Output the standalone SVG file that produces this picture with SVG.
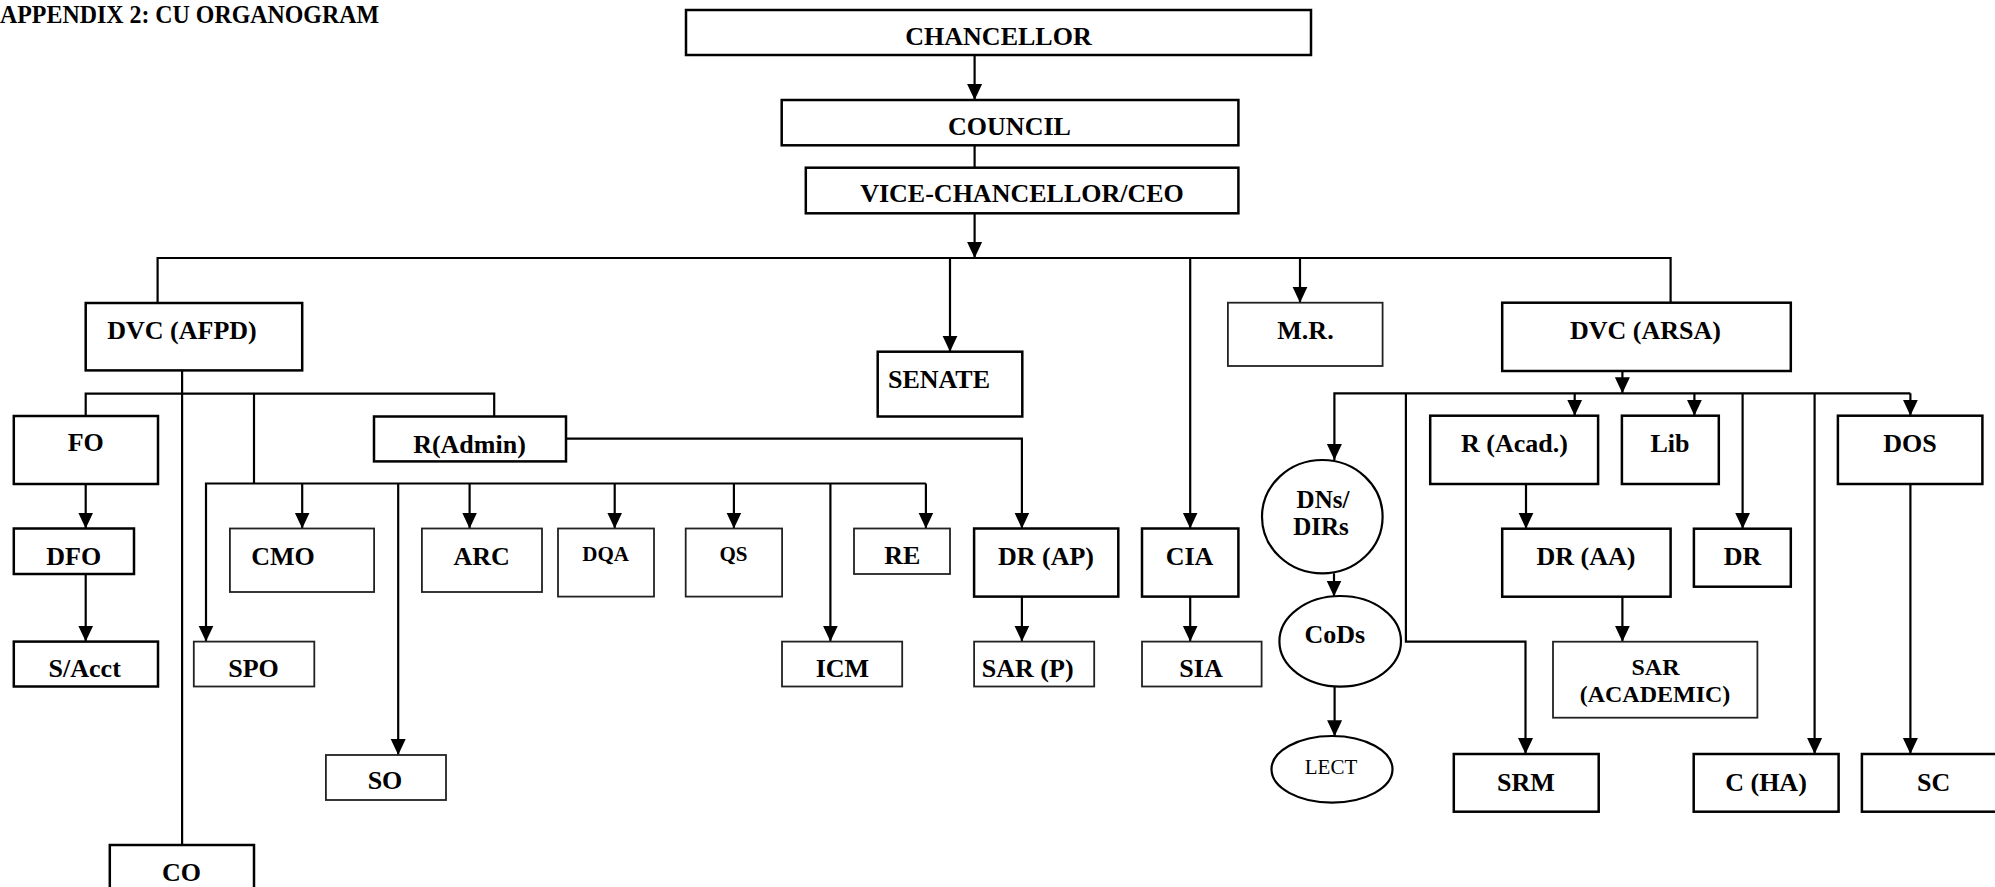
<svg xmlns="http://www.w3.org/2000/svg" width="1995" height="887" viewBox="0 0 1995 887">
<style>
  .bx{fill:#fff;stroke:#000;stroke-width:2.5}
  .bt{fill:#fff;stroke:#222;stroke-width:1.8}
  .el{fill:#fff;stroke:#000;stroke-width:2.2}
  .t{font-family:"Liberation Serif","Times New Roman",serif;font-weight:bold;font-size:26px;fill:#000;text-anchor:middle}
  .s{font-size:21px}
  .m{font-size:24px}
  .n{font-weight:normal}
  .c{fill:none;stroke:#000;stroke-width:2.2}
  .a{fill:none;stroke:#000;stroke-width:2.2;marker-end:url(#ah)}
</style>
<defs>
  <marker id="ah" markerUnits="userSpaceOnUse" markerWidth="16" markerHeight="16" viewBox="0 0 16 16" refX="16" refY="8" orient="auto">
    <path d="M0,0.5 L16,8 L0,15.5 z" fill="#000"/>
  </marker>
</defs>
<rect width="1995" height="887" fill="#fff"/>
<text x="0" y="23" class="t" style="text-anchor:start;font-size:25px" textLength="379" lengthAdjust="spacingAndGlyphs">APPENDIX 2: CU ORGANOGRAM</text>

<g id="connectors">
  <path class="a" d="M974.6,55 V100"/>
  <path class="c" d="M974.6,145.3 V167.7"/>
  <path class="a" d="M974.6,213.3 V258"/>
  <path class="c" d="M157.6,303 V258 H1670.6 V302.7"/>
  <path class="a" d="M950,258 V351.7"/>
  <path class="a" d="M1190.2,258 V528.5"/>
  <path class="a" d="M1300,258 V302.7"/>
  <path class="c" d="M182.1,370.4 V845"/>
  <path class="c" d="M85.7,416 V393.6 H494.2 V416.5"/>
  <path class="c" d="M254,393.6 V483.5"/>
  <path class="a" d="M925.9,483.5 H206 V641.6"/>
  <path class="a" d="M302.2,483.5 V528.5"/>
  <path class="a" d="M398.2,483.5 V755"/>
  <path class="a" d="M469.6,483.5 V528.5"/>
  <path class="a" d="M614.7,483.5 V528.5"/>
  <path class="a" d="M733.9,483.5 V528.5"/>
  <path class="a" d="M830.4,483.5 V641.6"/>
  <path class="a" d="M925.9,483.5 V528.5"/>
  <path class="a" d="M85.7,484 V528.5"/>
  <path class="a" d="M85.7,574 V641.6"/>
  <path class="a" d="M566,438.6 H1021.9 V528.5"/>
  <path class="a" d="M1021.9,596.6 V641.6"/>
  <path class="a" d="M1190.2,596.6 V641.6"/>
  <path class="a" d="M1622.4,371 V393.3"/>
  <path class="a" d="M1910.4,393.3 H1334.4 V460"/>
  <path class="a" d="M1405.9,393.3 V641.7 H1525.5 V754"/>
  <path class="a" d="M1574.7,393.3 V415.7"/>
  <path class="a" d="M1694.4,393.3 V415.7"/>
  <path class="a" d="M1742.6,393.3 V528.7"/>
  <path class="a" d="M1814.6,393.3 V754"/>
  <path class="a" d="M1910.4,393.3 V415.7"/>
  <path class="a" d="M1910.4,484 V754"/>
  <path class="a" d="M1526,484 V528.7"/>
  <path class="a" d="M1622.4,596.7 V641.7"/>
  <path class="a" d="M1334,573.3 V596.5"/>
  <path class="a" d="M1334.6,686.7 V736.3"/>
</g>

<g id="chancellor"><rect class="bx" x="686" y="10" width="625" height="45"/><text class="t" x="998.5" y="45">CHANCELLOR</text></g>
<g id="council"><rect class="bx" x="781.7" y="100" width="456.7" height="45.3"/><text class="t" x="1009.5" y="135">COUNCIL</text></g>
<g id="vc"><rect class="bx" x="805.8" y="167.7" width="432.6" height="45.6"/><text class="t" x="1022" y="202">VICE-CHANCELLOR/CEO</text></g>
<g id="dvc-afpd"><rect class="bx" x="85.7" y="303" width="216.5" height="67.4"/><text class="t" x="182" y="338.6">DVC (AFPD)</text></g>
<g id="senate"><rect class="bx" x="877.7" y="351.7" width="144.6" height="64.8"/><text class="t" x="939" y="388">SENATE</text></g>
<g id="mr"><rect class="bt" x="1227.9" y="302.7" width="154.7" height="63.3"/><text class="t" x="1305.5" y="339.3">M.R.</text></g>
<g id="dvc-arsa"><rect class="bx" x="1502.2" y="302.7" width="288.6" height="68.3"/><text class="t" x="1645.5" y="339.3">DVC (ARSA)</text></g>
<g id="fo"><rect class="bx" x="13.8" y="416" width="144.2" height="68"/><text class="t" x="85.8" y="451">FO</text></g>
<g id="radmin"><rect class="bx" x="374" y="416.5" width="192" height="44.9"/><text class="t" x="469.5" y="453">R(Admin)</text></g>
<g id="racad"><rect class="bx" x="1430.2" y="415.7" width="167.9" height="68.3"/><text class="t" x="1514.4" y="452">R (Acad.)</text></g>
<g id="lib"><rect class="bx" x="1621.9" y="415.7" width="96.9" height="68.3"/><text class="t" x="1670" y="452">Lib</text></g>
<g id="dos"><rect class="bx" x="1837.9" y="415.7" width="144.5" height="68.3"/><text class="t" x="1910" y="452">DOS</text></g>
<g id="dfo"><rect class="bx" x="13.8" y="528.5" width="120.2" height="45.5"/><text class="t" x="73.7" y="565">DFO</text></g>
<g id="cmo"><rect class="bt" x="229.9" y="528.5" width="144.2" height="63.5"/><text class="t" x="283" y="565">CMO</text></g>
<g id="arc"><rect class="bt" x="421.9" y="528.5" width="120.1" height="63.5"/><text class="t" x="481.7" y="565">ARC</text></g>
<g id="dqa"><rect class="bt" x="558" y="528.5" width="96" height="68.1"/><text class="t s" x="605.6" y="561">DQA</text></g>
<g id="qs"><rect class="bt" x="685.7" y="528.5" width="96.4" height="68.1"/><text class="t s" x="733.5" y="561">QS</text></g>
<g id="re"><rect class="bt" x="854" y="528.5" width="96" height="45.5"/><text class="t" x="902.3" y="564">RE</text></g>
<g id="drap"><rect class="bx" x="974.1" y="528.5" width="144.2" height="68.1"/><text class="t" x="1046" y="565">DR (AP)</text></g>
<g id="cia"><rect class="bx" x="1142" y="528.5" width="96.4" height="68.1"/><text class="t" x="1189.5" y="565">CIA</text></g>
<g id="dns"><ellipse class="el" cx="1322.3" cy="516.7" rx="60.3" ry="56.7"/><text class="t" style="font-size:25px" x="1323" y="508">DNs/</text><text class="t" style="font-size:25px" x="1321" y="535">DIRs</text></g>
<g id="draa"><rect class="bx" x="1502.2" y="528.7" width="168.4" height="68"/><text class="t" x="1586" y="565">DR (AA)</text></g>
<g id="dr"><rect class="bx" x="1693.9" y="528.7" width="96.9" height="58"/><text class="t" x="1742.6" y="565">DR</text></g>
<g id="sacct"><rect class="bx" x="13.8" y="641.6" width="144.2" height="44.9"/><text class="t" x="84.7" y="677">S/Acct</text></g>
<g id="spo"><rect class="bt" x="193.8" y="641.6" width="120.5" height="44.9"/><text class="t" x="253.5" y="677">SPO</text></g>
<g id="icm"><rect class="bt" x="782" y="641.6" width="120.2" height="44.9"/><text class="t" x="842.4" y="677">ICM</text></g>
<g id="sarp"><rect class="bt" x="974.1" y="641.6" width="120.1" height="44.9"/><text class="t" x="1027.7" y="677">SAR (P)</text></g>
<g id="sia"><rect class="bt" x="1142" y="641.6" width="119.6" height="44.9"/><text class="t" x="1201" y="677">SIA</text></g>
<g id="cods"><ellipse class="el" cx="1340.2" cy="641.3" rx="60.8" ry="45.3"/><text class="t" x="1334.8" y="642.7">CoDs</text></g>
<g id="saracad"><rect class="bt" x="1553" y="641.7" width="204.4" height="76"/><text class="t m" x="1655.5" y="675">SAR</text><text class="t m" x="1655" y="701.7">(ACADEMIC)</text></g>
<g id="lect"><ellipse class="el" cx="1332" cy="769.3" rx="60.5" ry="33.3"/><text class="t s n" x="1331" y="774">LECT</text></g>
<g id="srm"><rect class="bx" x="1453.8" y="754" width="144.9" height="57.7"/><text class="t" x="1526" y="790.7">SRM</text></g>
<g id="cha"><rect class="bx" x="1693.7" y="754" width="144.9" height="57.7"/><text class="t" x="1766" y="790.7">C (HA)</text></g>
<g id="sc"><rect class="bx" x="1861.9" y="754" width="150" height="57.7"/><text class="t" x="1933.7" y="790.7">SC</text></g>
<g id="so"><rect class="bt" x="325.9" y="755" width="120.1" height="45"/><text class="t" x="385" y="788.8">SO</text></g>
<g id="co"><rect class="bx" x="109.8" y="845" width="144.2" height="60"/><text class="t" x="181.5" y="881">CO</text></g>
</svg>
